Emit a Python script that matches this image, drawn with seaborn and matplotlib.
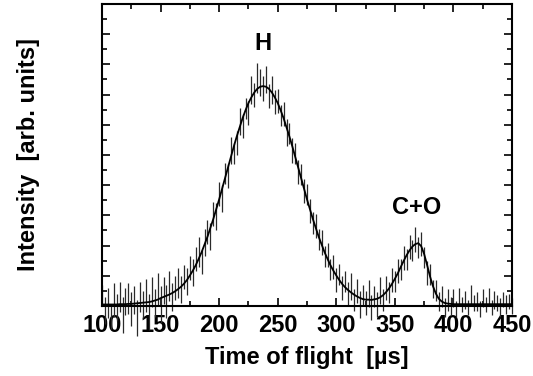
import numpy as np
import pandas as pd
import matplotlib.pyplot as plt
import seaborn as sns
from matplotlib.ticker import MultipleLocator

sns.set_theme(style="ticks")
plt.rcParams['font.family'] = ['Liberation Sans', 'DejaVu Sans']
plt.rcParams['font.weight'] = 'bold'
plt.rcParams['text.color'] = 'black'
plt.rcParams['axes.labelcolor'] = 'black'
plt.rcParams['xtick.color'] = 'black'
plt.rcParams['ytick.color'] = 'black'

# Time-of-flight bins (us), 2.5 us wide
tof = np.arange(100, 452.5, 2.5)

# Measured intensity (arb. units)
counts = [
    0.35, -0.15, 0.10, -0.35, 0.20, -0.05, 0.30, -0.30, 0.15, 0.25,
    -0.10, 0.20, -0.40, 0.30, 0.05, 0.35, -0.20, 0.45, 0.10, 0.55,
    0.05, 0.50, 0.15, 0.65, 0.30, 0.60, 0.75, 0.55, 0.95, 0.80,
    1.25, 1.10, 1.55, 1.80, 1.45, 2.10, 2.45, 2.30, 3.05, 2.95,
    3.70, 3.55, 4.40, 4.30, 5.15, 5.05, 5.40, 6.10, 5.95, 6.55,
    6.40, 7.15, 7.00, 7.55, 7.40, 7.20, 7.50, 6.95, 7.15, 6.75,
    6.80, 6.30, 6.35, 5.75, 5.70, 5.15, 5.05, 4.45, 4.35, 3.80,
    3.70, 3.15, 2.75, 2.65, 2.20, 2.10, 1.65, 1.70, 1.20, 1.30,
    0.85, 1.05, 0.60, 0.80, 0.40, 0.65, 0.20, 0.50, 0.05, 0.35,
    0.10, 0.40, -0.05, 0.30, 0.05, 0.50, 0.20, 0.60, 0.45, 0.85,
    0.80, 1.15, 1.20, 1.60, 1.55, 1.95, 1.85, 2.20, 1.95, 2.05,
    1.60, 1.10, 1.05, 0.55, 0.50, 0.15, 0.30, -0.05, 0.20, 0.00,
    0.25, -0.10, 0.30, 0.05, 0.20, -0.05, 0.35, 0.10, 0.15, -0.10,
    0.25, 0.05, 0.30, -0.05, 0.20, 0.10, -0.05, 0.20, 0.05, 0.15,
    0.00,
]

# Error bar half-lengths
err = [
    0.35, 0.45, 0.50, 0.40, 0.55, 0.45, 0.50, 0.60, 0.45, 0.50,
    0.55, 0.45, 0.60, 0.50, 0.45, 0.55, 0.60, 0.50, 0.45, 0.55,
    0.60, 0.45, 0.55, 0.50, 0.45, 0.40, 0.50, 0.45, 0.40, 0.45,
    0.40, 0.45, 0.40, 0.50, 0.40, 0.45, 0.40, 0.45, 0.40, 0.45,
    0.40, 0.45, 0.35, 0.40, 0.45, 0.35, 0.40, 0.45, 0.40, 0.35,
    0.40, 0.45, 0.40, 0.50, 0.45, 0.40, 0.45, 0.40, 0.45, 0.40,
    0.40, 0.35, 0.40, 0.45, 0.35, 0.40, 0.35, 0.40, 0.35, 0.40,
    0.35, 0.40, 0.35, 0.40, 0.35, 0.40, 0.35, 0.40, 0.35, 0.40,
    0.40, 0.35, 0.40, 0.35, 0.40, 0.45, 0.35, 0.40, 0.45, 0.35,
    0.40, 0.45, 0.40, 0.35, 0.40, 0.45, 0.35, 0.40, 0.35, 0.40,
    0.35, 0.40, 0.35, 0.40, 0.35, 0.40, 0.35, 0.40, 0.35, 0.40,
    0.35, 0.40, 0.35, 0.30, 0.35, 0.30, 0.35, 0.30, 0.35, 0.30,
    0.30, 0.25, 0.30, 0.25, 0.30, 0.25, 0.35, 0.25, 0.30, 0.25,
    0.30, 0.25, 0.30, 0.25, 0.30, 0.25, 0.30, 0.25, 0.30, 0.25,
    0.25,
]

# Fitted curve (H peak + C+O peak)
fit = [
    0.05, 0.05, 0.05, 0.05, 0.05, 0.05, 0.06, 0.06, 0.06, 0.07,
    0.07, 0.08, 0.09, 0.10, 0.11, 0.12, 0.13, 0.15, 0.18, 0.21,
    0.26, 0.30, 0.34, 0.38, 0.43, 0.49, 0.56, 0.64, 0.74, 0.86,
    1.01, 1.17, 1.35, 1.56, 1.78, 2.03, 2.29, 2.58, 2.88, 3.20,
    3.53, 3.88, 4.23, 4.58, 4.93, 5.28, 5.61, 5.92, 6.22, 6.48,
    6.72, 6.91, 7.07, 7.19, 7.26, 7.28, 7.26, 7.19, 7.07, 6.91,
    6.72, 6.48, 6.22, 5.92, 5.61, 5.28, 4.93, 4.58, 4.23, 3.88,
    3.53, 3.20, 2.88, 2.58, 2.29, 2.03, 1.78, 1.56, 1.35, 1.17,
    1.01, 0.86, 0.73, 0.62, 0.53, 0.45, 0.38, 0.32, 0.27, 0.23,
    0.21, 0.21, 0.20, 0.22, 0.24, 0.29, 0.36, 0.46, 0.58, 0.73,
    0.90, 1.08, 1.29, 1.49, 1.68, 1.84, 1.97, 2.05, 2.08, 1.98,
    1.72, 1.36, 0.98, 0.66, 0.41, 0.24, 0.15, 0.10, 0.08, 0.07,
    0.06, 0.06, 0.06, 0.06, 0.06, 0.06, 0.06, 0.06, 0.06, 0.06,
    0.06, 0.06, 0.06, 0.06, 0.06, 0.06, 0.06, 0.06, 0.06, 0.06,
    0.06,
]

peak_labels = ['H', 'C+O']
peak_x = [237.5, 368.5]
peak_y = [8.68, 3.26]

df = pd.DataFrame({'tof': tof, 'counts': counts, 'err': err, 'fit': fit})

fig = plt.figure(figsize=(5.33, 3.76), dpi=100)
ax = fig.add_axes([0.1914, 0.1862, 0.7692, 0.8032])

eb = ax.errorbar(df['tof'], df['counts'], yerr=df['err'], fmt='none',
                 ecolor='#2a2a2a', elinewidth=0.9)
for col in eb.lines[2]:
    col.set_clip_on(False)

sns.lineplot(data=df, x='tof', y='fit', ax=ax, color='black', lw=1.3)

for lab, px, py in zip(peak_labels, peak_x, peak_y):
    ax.text(px, py, lab, ha='center', va='center', fontsize=17,
            fontweight='bold', color='black')

ax.set_xlim(100, 450)
ax.set_ylim(0, 10)
ax.xaxis.set_major_locator(MultipleLocator(50))
ax.xaxis.set_minor_locator(MultipleLocator(25))
ax.yaxis.set_major_locator(MultipleLocator(1))
ax.yaxis.set_minor_locator(MultipleLocator(0.5))
ax.tick_params(which='both', direction='in', top=True, right=True,
               width=1.2, color='black', labelcolor='black', labelleft=False)
ax.tick_params(which='major', length=6, labelsize=17, pad=6)
ax.tick_params(which='minor', length=3.5)
for sp in ax.spines.values():
    sp.set_linewidth(1.5)
    sp.set_color('black')

ax.set_xlabel('Time of flight  [µs]', fontsize=17, fontweight='bold',
              labelpad=6, color='black')
ax.set_ylabel('Intensity  [arb. units]', fontsize=17, fontweight='bold',
              labelpad=45, color='black')

fig.savefig('out.png', dpi=100)
